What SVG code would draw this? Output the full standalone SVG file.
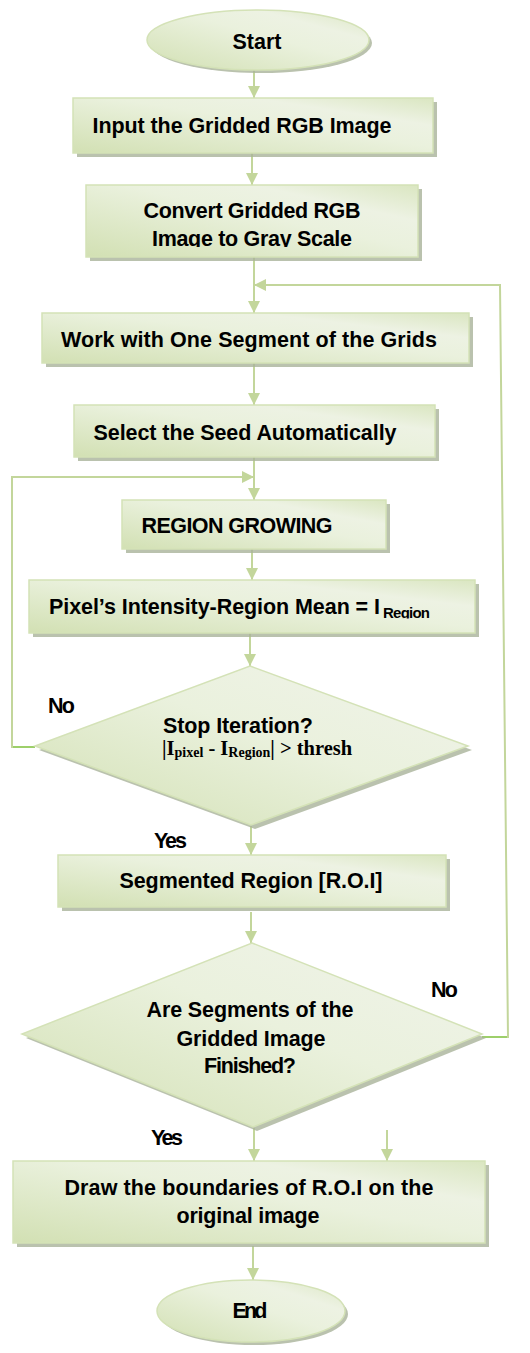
<svg xmlns="http://www.w3.org/2000/svg" width="530" height="1353" viewBox="0 0 530 1353">
<defs>
<linearGradient id="g" x1="0" y1="1" x2="1" y2="0">
<stop offset="0" stop-color="#d2e0b3"/>
<stop offset="0.55" stop-color="#eaf1dd"/>
<stop offset="0.75" stop-color="#edf2e3"/>
<stop offset="1" stop-color="#dae6c1"/>
</linearGradient>
<marker id="ah" markerUnits="userSpaceOnUse" markerWidth="14" markerHeight="14" refX="12" refY="6" orient="auto">
<path d="M0,0 L12,6 L0,12 Z" fill="#c3d69b"/>
</marker>
<clipPath id="cc"><rect x="86" y="185" width="340" height="62"/></clipPath>
<clipPath id="cp"><rect x="29" y="580" width="450" height="38.5"/></clipPath>
</defs>
<style>
.sh{fill:#a9b39a;opacity:0.8}
.nd{fill:url(#g);stroke:#d4e2b7;stroke-width:1.5}
.t{font-family:"Liberation Sans",Arial,sans-serif;font-weight:bold;font-size:21.5px;fill:#000;text-anchor:middle}
.f{font-family:"Liberation Serif","Times New Roman",serif;font-weight:bold;fill:#000}
.c{fill:none;stroke:#c3d69b;stroke-width:2}
.c2{fill:none;stroke:#9dcf6a;stroke-width:2}
</style>

<g id="connectors">
<line class="c" x1="254" y1="70" x2="254" y2="98" marker-end="url(#ah)"/>
<line class="c" x1="252" y1="153" x2="252" y2="185" marker-end="url(#ah)"/>
<line class="c" x1="254" y1="257" x2="254" y2="313" marker-end="url(#ah)"/>
<line class="c" x1="254" y1="363" x2="254" y2="405" marker-end="url(#ah)"/>
<line class="c" x1="254" y1="457" x2="254" y2="500" marker-end="url(#ah)"/>
<line class="c" x1="252" y1="549" x2="252" y2="580" marker-end="url(#ah)"/>
<line class="c" x1="250" y1="633" x2="250" y2="666" marker-end="url(#ah)"/>
<line class="c" x1="251" y1="826" x2="251" y2="855" marker-end="url(#ah)"/>
<line class="c" x1="251" y1="912" x2="251" y2="943" marker-end="url(#ah)"/>
<line class="c" x1="254" y1="1128" x2="254" y2="1161" marker-end="url(#ah)"/>
<line class="c" x1="387" y1="1130" x2="387" y2="1161" marker-end="url(#ah)"/>
<line class="c" x1="253" y1="1246" x2="253" y2="1280" marker-end="url(#ah)"/>
<polyline class="c2" points="35,747 12,747"/>
<polyline class="c" points="12,748 12,477 254,477" marker-end="url(#ah)"/>
<polyline class="c2" points="482,1037 508,1037"/>
<polyline class="c" points="508,1038 500,285 254,285" marker-end="url(#ah)"/>
</g>

<g id="start">
<ellipse class="sh" cx="261" cy="43" rx="111" ry="30"/>
<ellipse class="nd" cx="258" cy="40" rx="111" ry="30"/>
<text class="t" x="257" y="49" textLength="49">Start</text>
</g>

<g id="input">
<rect class="sh" x="77" y="102" width="360" height="55"/>
<rect class="nd" x="73" y="98" width="360" height="55"/>
<text class="t" x="242" y="133" textLength="299">Input the Gridded RGB Image</text>
</g>

<g id="convert">
<rect class="sh" x="90" y="189" width="332" height="72"/>
<rect class="nd" x="86" y="185" width="332" height="72"/>
<text class="t" x="252" y="218" textLength="217">Convert Gridded RGB</text>
<text class="t" x="252" y="246" textLength="200" clip-path="url(#cc)">Image to Gray Scale</text>
</g>

<g id="work">
<rect class="sh" x="46" y="317" width="427" height="50"/>
<rect class="nd" x="42" y="313" width="427" height="50"/>
<text class="t" x="249" y="347" textLength="376">Work with One Segment of the Grids</text>
</g>

<g id="seed">
<rect class="sh" x="78" y="409" width="361" height="52"/>
<rect class="nd" x="74" y="405" width="361" height="52"/>
<text class="t" x="245" y="440" textLength="303">Select the Seed Automatically</text>
</g>

<g id="region">
<rect class="sh" x="126" y="504" width="264" height="49"/>
<rect class="nd" x="122" y="500" width="264" height="49"/>
<text class="t" x="237" y="533" textLength="191">REGION GROWING</text>
</g>

<g id="pixel">
<rect class="sh" x="33" y="584" width="446" height="53"/>
<rect class="nd" x="29" y="580" width="446" height="53"/>
<text class="t" x="49" y="614" style="text-anchor:start" textLength="331">Pixel’s Intensity-Region Mean = I</text>
<text class="t" x="383" y="618" style="text-anchor:start;font-size:15px" textLength="47" clip-path="url(#cp)">Region</text>
</g>

<g id="stop">
<polygon class="sh" points="254,670 472,750 255,829 39,750"/>
<polygon class="nd" points="250,666 468,746 251,825 35,746"/>
<text class="t" x="238" y="733" textLength="150">Stop Iteration?</text>
<text class="f" x="162" y="755" font-size="20.5"><tspan>|I</tspan><tspan font-size="14" dy="2">pixel</tspan><tspan dy="-2"> - I</tspan><tspan font-size="14" dy="2">Region</tspan><tspan dy="-2">| &gt; thresh</tspan></text>
</g>

<g id="segmented">
<rect class="sh" x="62" y="859" width="388" height="52"/>
<rect class="nd" x="58" y="855" width="388" height="52"/>
<text class="t" x="251" y="888" textLength="263">Segmented Region [R.O.I]</text>
</g>

<g id="finished">
<polygon class="sh" points="256,947 486,1038 257,1131 26,1038"/>
<polygon class="nd" points="252,943 482,1034 253,1127 22,1034"/>
<text class="t" x="250" y="1017" textLength="207">Are Segments of the</text>
<text class="t" x="251" y="1046" textLength="149">Gridded Image</text>
<text class="t" x="250" y="1073" textLength="92">Finished?</text>
</g>

<g id="draw">
<rect class="sh" x="17" y="1165" width="472" height="82"/>
<rect class="nd" x="13" y="1161" width="472" height="82"/>
<text class="t" x="249" y="1195" textLength="369">Draw the boundaries of R.O.I on the</text>
<text class="t" x="248" y="1223" textLength="143">original image</text>
</g>

<g id="end">
<ellipse class="sh" cx="254" cy="1314" rx="94" ry="31"/>
<ellipse class="nd" cx="251" cy="1311" rx="94" ry="31"/>
<text class="t" x="250" y="1318" textLength="35">End</text>
</g>

<g id="labels">
<text class="t" x="48" y="713" style="text-anchor:start" textLength="27">No</text>
<text class="t" x="154" y="848" style="text-anchor:start" textLength="33">Yes</text>
<text class="t" x="431" y="997" style="text-anchor:start" textLength="27">No</text>
<text class="t" x="151" y="1145" style="text-anchor:start" textLength="32">Yes</text>
</g>
</svg>
